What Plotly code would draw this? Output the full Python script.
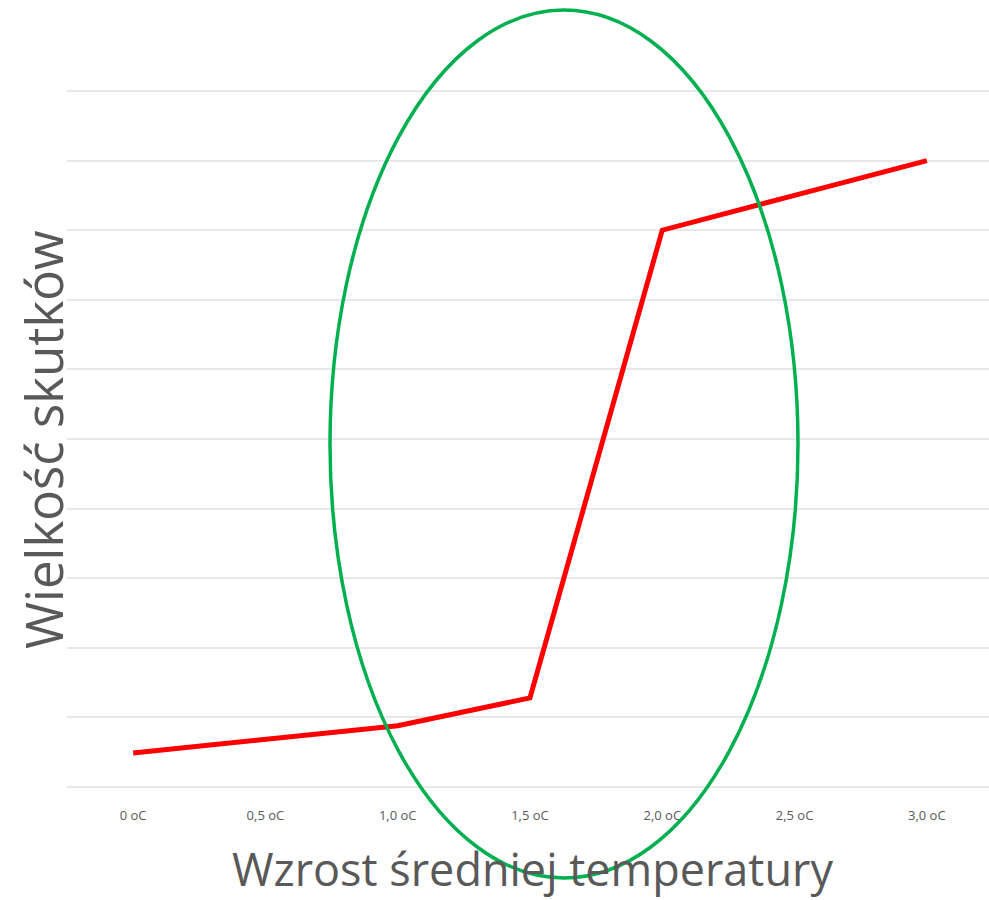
import plotly.graph_objects as go

categories = ["0 oC", "0,5 oC", "1,0 oC", "1,5 oC", "2,0 oC", "2,5 oC", "3,0 oC"]
impact = [0.49, 0.68, 0.88, 1.28, 8.0, 8.5, 9.0]
y_ticks = list(range(0, 11))

W, H = 989, 900
ml, mr, mt, mb = 67, 0, 84, 106
pw = W - ml - mr
ph = H - mt - mb

def px_x(x):
    return (x - ml) / pw

def px_y(y):
    return (H - mb - y) / ph

fig = go.Figure()
fig.add_trace(go.Scatter(
    x=categories, y=impact, mode="lines",
    line=dict(color="#FF0000", width=5),
    showlegend=False, hoverinfo="skip",
))

fig.update_layout(
    width=W, height=H,
    margin=dict(l=ml, r=mr, t=mt, b=mb),
    paper_bgcolor="white", plot_bgcolor="white",
    font=dict(family="Open Sans", color="#595959"),
    xaxis=dict(
        type="category", range=[-0.5, 6.47], showgrid=False, zeroline=False,
        showline=False, ticks="", tickfont=dict(size=13, color="#595959"),
        ticklabelstandoff=12,
    ),
    yaxis=dict(
        range=[-0.1, 10.1], tickvals=y_ticks, showticklabels=False,
        showgrid=True, gridcolor="#E8E8E8", gridwidth=2, zeroline=False,
        showline=False, ticks="",
    ),
    shapes=[dict(
        type="circle", xref="paper", yref="paper",
        x0=px_x(330), x1=px_x(798), y0=px_y(878), y1=px_y(10),
        line=dict(color="#00B050", width=3.5), fillcolor="rgba(0,0,0,0)",
        layer="above",
    )],
    annotations=[
        dict(text="Wielkość skutków", xref="paper", yref="paper",
             x=px_x(43), y=px_y(440), textangle=-90, showarrow=False,
             xanchor="center", yanchor="middle",
             font=dict(size=51, color="#595959", family="Open Sans")),
        dict(text="Wzrost średniej temperatury", xref="paper", yref="paper",
             x=px_x(532), y=px_y(868), showarrow=False,
             xanchor="center", yanchor="middle",
             font=dict(size=45, color="#595959", family="Open Sans")),
    ],
)

fig.write_html("out.html")
